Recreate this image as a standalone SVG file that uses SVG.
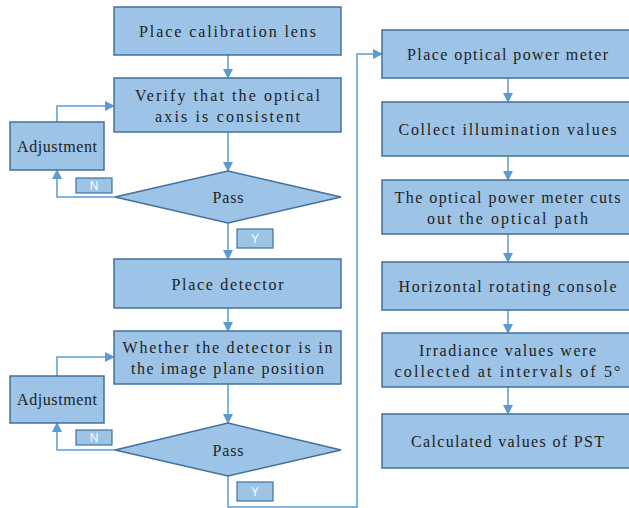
<svg xmlns="http://www.w3.org/2000/svg" width="629" height="508" viewBox="0 0 629 508">
<style>
.box{fill:#9DC3E6;stroke:#41719C;stroke-width:1.5}
.lbl{fill:#9DC3E6;stroke:#41719C;stroke-width:1.2}
.t{font-family:"Liberation Serif","Times New Roman",serif;font-size:16px;fill:#222;text-anchor:middle}
.yn{font-family:"Liberation Sans",Arial,sans-serif;font-size:12px;fill:#fff;text-anchor:middle}
.c{fill:none;stroke:#5B9BD5;stroke-width:1.5}
</style>
<defs>
<marker id="ah" markerWidth="10" markerHeight="10" refX="9" refY="5" orient="auto" markerUnits="userSpaceOnUse">
<path d="M0,0 L10,5 L0,10 Z" fill="#5B9BD5"/>
</marker>
</defs>
<rect width="629" height="508" fill="#fff"/>
<g id="connectors">
<path class="c" d="M228,55 V78" marker-end="url(#ah)"/>
<path class="c" d="M228,132 V171" marker-end="url(#ah)"/>
<path class="c" d="M115,197 H57 V170" marker-end="url(#ah)"/>
<path class="c" d="M57,122 V106 H114" marker-end="url(#ah)"/>
<path class="c" d="M228,223 V259" marker-end="url(#ah)"/>
<path class="c" d="M228,308 V331" marker-end="url(#ah)"/>
<path class="c" d="M228,384 V423" marker-end="url(#ah)"/>
<path class="c" d="M115,450 H57 V423" marker-end="url(#ah)"/>
<path class="c" d="M57,376 V357 H114" marker-end="url(#ah)"/>
<path class="c" d="M228,476 V507 H357 V54 H382" marker-end="url(#ah)"/>
<path class="c" d="M508,78 V102" marker-end="url(#ah)"/>
<path class="c" d="M508,156 V180" marker-end="url(#ah)"/>
<path class="c" d="M508,234 V262" marker-end="url(#ah)"/>
<path class="c" d="M508,310 V333" marker-end="url(#ah)"/>
<path class="c" d="M508,387 V414" marker-end="url(#ah)"/>
</g>
<g id="n1"><rect class="box" x="114" y="7" width="227" height="48"/><text class="t" x="227.5" y="37" textLength="177">Place calibration lens</text></g>
<g id="n2"><rect class="box" x="114" y="78" width="227" height="54"/><text class="t" x="227.5" y="101" textLength="185">Verify that the optical</text><text class="t" x="227.5" y="122" textLength="145">axis is consistent</text></g>
<g id="n3"><rect class="box" x="10" y="122" width="94" height="48"/><text class="t" x="57" y="152" textLength="80">Adjustment</text></g>
<g id="n4"><path class="box" d="M115,197 L228,171 L341,197 L228,223 Z"/><text class="t" x="228" y="203" textLength="31">Pass</text></g>
<g id="lN1"><rect class="lbl" x="76" y="178" width="36" height="15"/><text class="yn" x="94" y="190">N</text></g>
<g id="lY1"><rect class="lbl" x="237" y="229" width="36" height="19"/><text class="yn" x="255" y="243">Y</text></g>
<g id="n5"><rect class="box" x="114" y="259" width="227" height="49"/><text class="t" x="227.5" y="290" textLength="112">Place detector</text></g>
<g id="n6"><rect class="box" x="114" y="331" width="227" height="53"/><text class="t" x="227.5" y="353" textLength="210">Whether the detector is in</text><text class="t" x="227.5" y="374" textLength="193">the image plane position</text></g>
<g id="n7"><rect class="box" x="10" y="376" width="94" height="47"/><text class="t" x="57" y="405" textLength="80">Adjustment</text></g>
<g id="n8"><path class="box" d="M115,450 L228,423 L341,450 L228,476 Z"/><text class="t" x="228" y="456" textLength="31">Pass</text></g>
<g id="lN2"><rect class="lbl" x="76" y="430" width="36" height="15"/><text class="yn" x="94" y="442">N</text></g>
<g id="lY2"><rect class="lbl" x="237" y="482" width="36" height="19"/><text class="yn" x="255" y="496">Y</text></g>
<g id="r1"><rect class="box" x="382" y="30" width="252" height="48"/><text class="t" x="507.5" y="60" textLength="201">Place optical power meter</text></g>
<g id="r2"><rect class="box" x="382" y="102" width="252" height="54"/><text class="t" x="507.5" y="135" textLength="218">Collect illumination values</text></g>
<g id="r3"><rect class="box" x="382" y="180" width="252" height="54"/><text class="t" x="507.5" y="203" textLength="226">The optical power meter cuts</text><text class="t" x="507.5" y="224" textLength="161">out the optical path</text></g>
<g id="r4"><rect class="box" x="382" y="262" width="252" height="48"/><text class="t" x="507.5" y="292" textLength="218">Horizontal rotating console</text></g>
<g id="r5"><rect class="box" x="382" y="333" width="252" height="54"/><text class="t" x="507.5" y="356" textLength="177">Irradiance values were</text><text class="t" x="507.5" y="377" textLength="226">collected at intervals of 5°</text></g>
<g id="r6"><rect class="box" x="382" y="414" width="252" height="54"/><text class="t" x="507.5" y="447" textLength="193">Calculated values of PST</text></g>
</svg>
